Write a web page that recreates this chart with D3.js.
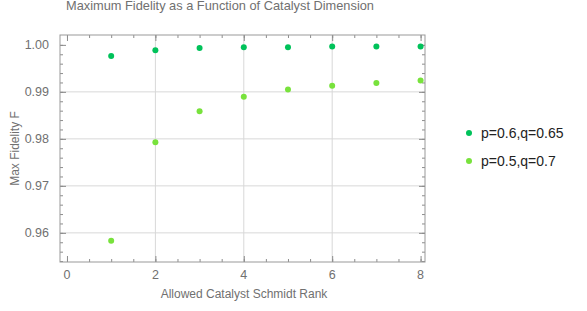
<!DOCTYPE html>
<html>
<head>
<meta charset="utf-8">
<script src="https://cdn.jsdelivr.net/npm/d3@7.9.0/dist/d3.min.js"></script>
<style>
  body { margin: 0; background: #fff; }
  svg { font-family: "Liberation Sans", Arial, sans-serif; }
</style>
</head>
<body>
<svg id="chart" width="587" height="311"></svg>
<script>
const ranks = [1, 2, 3, 4, 5, 6, 7, 8];
const fidelityA = [0.99765, 0.99885, 0.99935, 0.9995, 0.9995, 0.99963, 0.99965, 0.99965];
const fidelityB = [0.9583, 0.9793, 0.9859, 0.98894, 0.99051, 0.99128, 0.99191, 0.99242];
const seriesNames = ['p=0.6,q=0.65', 'p=0.5,q=0.7'];
const seriesColors = ['#00c25a', '#78e23c'];
const xTicks = [0, 2, 4, 6, 8];
const yTicks = [0.96, 0.97, 0.98, 0.99, 1.00];

const svg = d3.select('#chart');
const plotLeft = 60, plotRight = 425, plotTop = 35, plotBottom = 262;

let x = d3.scaleLinear().domain([-0.158, 8.1]).range([plotLeft, plotRight]);
let y = d3.scaleLinear().domain([0.9538, 1.0021]).range([plotBottom, plotTop]);

// grid lines
svg.append('g').selectAll('line')
    .data([2, 4, 6])
    .enter().append('line')
    .attr('x1', d => x(d)).attr('x2', d => x(d))
    .attr('y1', plotTop).attr('y2', plotBottom)
    .attr('stroke', '#d8d8d8').attr('stroke-width', 1);

svg.append('g').selectAll('line')
    .data([0.96, 0.97, 0.98, 0.99])
    .enter().append('line')
    .attr('x1', plotLeft).attr('x2', plotRight)
    .attr('y1', d => y(d)).attr('y2', d => y(d))
    .attr('stroke', '#d8d8d8').attr('stroke-width', 1);

// frame ticks, inward, on all four sides
const xMinor = d3.range(0, 8.01, 0.5);
const yMinor = d3.range(0.954, 1.0015, 0.002);
const tickColor = '#8c8c8c';

function tickSide(axis, size) {
    return axis.tickSize(size).tickFormat('').tickSizeOuter(0);
}

svg.append('g').attr('transform', `translate(0,${plotBottom})`)
    .call(tickSide(d3.axisTop(x).tickValues(xMinor), 3));
svg.append('g').attr('transform', `translate(0,${plotBottom})`)
    .call(tickSide(d3.axisTop(x).tickValues(xTicks), 6));
svg.append('g').attr('transform', `translate(0,${plotTop})`)
    .call(tickSide(d3.axisBottom(x).tickValues(xMinor), 3));
svg.append('g').attr('transform', `translate(0,${plotTop})`)
    .call(tickSide(d3.axisBottom(x).tickValues(xTicks), 6));
svg.append('g').attr('transform', `translate(${plotLeft},0)`)
    .call(tickSide(d3.axisRight(y).tickValues(yMinor), 3));
svg.append('g').attr('transform', `translate(${plotLeft},0)`)
    .call(tickSide(d3.axisRight(y).tickValues(yTicks), 6));
svg.append('g').attr('transform', `translate(${plotRight},0)`)
    .call(tickSide(d3.axisLeft(y).tickValues(yMinor), 3));
svg.append('g').attr('transform', `translate(${plotRight},0)`)
    .call(tickSide(d3.axisLeft(y).tickValues(yTicks), 6));

svg.selectAll('.domain').remove();
svg.selectAll('.tick line').attr('stroke', tickColor);

svg.append('rect')
    .attr('x', plotLeft).attr('y', plotTop)
    .attr('width', plotRight - plotLeft).attr('height', plotBottom - plotTop)
    .attr('fill', 'none').attr('stroke', '#999').attr('stroke-width', 1);

// tick labels
svg.append('g').selectAll('text')
    .data(xTicks)
    .enter().append('text')
    .attr('x', d => x(d)).attr('y', plotBottom + 17)
    .attr('text-anchor', 'middle')
    .attr('font-size', 12.5).attr('fill', '#707070')
    .text(d => d);

svg.append('g').selectAll('text')
    .data(yTicks)
    .enter().append('text')
    .attr('x', 49).attr('y', d => y(d) + 4)
    .attr('text-anchor', 'end')
    .attr('font-size', 12.5).attr('fill', '#707070')
    .text(d => d3.format('.2f')(d));

// points
const series = [fidelityA, fidelityB];
series.forEach((vals, i) => {
    svg.append('g').selectAll('circle')
        .data(vals)
        .enter().append('circle')
        .attr('cx', (d, j) => x(ranks[j]))
        .attr('cy', d => y(d))
        .attr('r', 3)
        .attr('fill', seriesColors[i]);
});

// titles
svg.append('text')
    .attr('x', 220).attr('y', 10)
    .attr('text-anchor', 'middle')
    .attr('font-size', 12.8).attr('fill', '#707070')
    .text('Maximum Fidelity as a Function of Catalyst Dimension');

svg.append('text')
    .attr('x', 244).attr('y', 298)
    .attr('text-anchor', 'middle')
    .attr('font-size', 12).attr('fill', '#707070')
    .text('Allowed Catalyst Schmidt Rank');

svg.append('text')
    .attr('transform', `translate(19,${(plotTop + plotBottom) / 2}) rotate(-90)`)
    .attr('text-anchor', 'middle')
    .attr('font-size', 12).attr('fill', '#707070')
    .text('Max Fidelity F');

// legend
const legend = svg.append('g').selectAll('g')
    .data(seriesNames)
    .enter().append('g')
    .attr('transform', (d, i) => `translate(469,${133 + i * 28})`);

legend.append('circle').attr('r', 3).attr('fill', (d, i) => seriesColors[i]);
legend.append('text')
    .attr('x', 12).attr('y', 5)
    .attr('font-size', 14).attr('fill', '#222')
    .text(d => d);
</script>
</body>
</html>
